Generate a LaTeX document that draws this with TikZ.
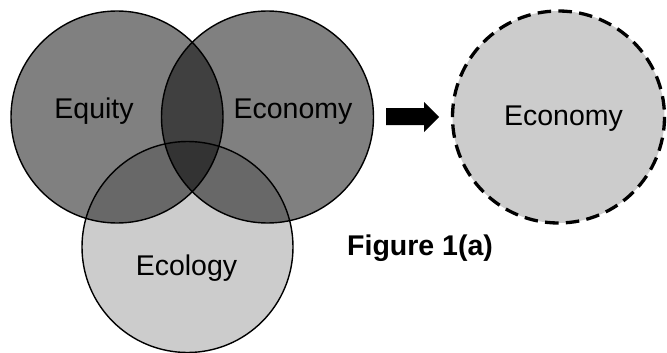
\documentclass[tikz,border=0pt]{standalone}
\usepackage{fontspec}
\setmainfont{Liberation Sans}
\begin{document}
\begin{tikzpicture}[x=1pt,y=-1pt,
  ring/.style={draw=black,line width=1.4pt},
  lbl/.style={anchor=base,inner sep=0pt,font=\fontsize{28.5}{34}\selectfont},
  dashring/.style={draw=black,line width=3.3pt,dash pattern=on 13.5pt off 7.31pt,fill=gray80}]
\definecolor{gray80}{HTML}{CCCCCC}
\definecolor{gray50}{HTML}{808080}
\definecolor{gray40}{HTML}{686868}
\definecolor{gray25}{HTML}{404040}
\definecolor{gray20}{HTML}{333333}
\useasboundingbox (0,0) rectangle (667,353);
\coordinate (eq) at (117,117);
\coordinate (ec) at (267.5,117);
\coordinate (el) at (187.5,247);
\coordinate (ed) at (558.5,117);
\def\rr{106}
% fills
\fill[gray50] (eq) circle (\rr);
\fill[gray50] (ec) circle (\rr);
\fill[gray80] (el) circle (105.5);
\begin{scope}
  \clip (eq) circle (\rr);
  \fill[gray25] (ec) circle (\rr);
  \fill[gray40] (el) circle (105.5);
\end{scope}
\begin{scope}
  \clip (ec) circle (\rr);
  \fill[gray40] (el) circle (105.5);
\end{scope}
\begin{scope}
  \clip (eq) circle (\rr);
  \clip (ec) circle (\rr);
  \fill[gray20] (el) circle (105.5);
\end{scope}
% outlines
\draw[ring] (eq) circle (\rr);
\draw[ring] (ec) circle (\rr);
\draw[ring] (el) circle (105.5);
% dashed circle
\path[dashring] (ed) circle (106);
% labels
\node[lbl] (tEq) at (94,118) {Equity};
\node[lbl] (tEc) at (293,118) {Economy};
\node[lbl] (tEl) at (186.5,275) {Ecology};
\node[lbl] (tEd) at (563.5,125) {Economy};
\node[lbl,anchor=base west,font=\fontsize{28.5}{34}\selectfont\bfseries] (fig) at (347,255) {Figure 1(a)};
% arrow
\fill[black] (386,108) -- (424,108) -- (424,102) -- (439,117) -- (424,132) -- (424,125) -- (386,125) -- cycle;
\end{tikzpicture}
\end{document}
